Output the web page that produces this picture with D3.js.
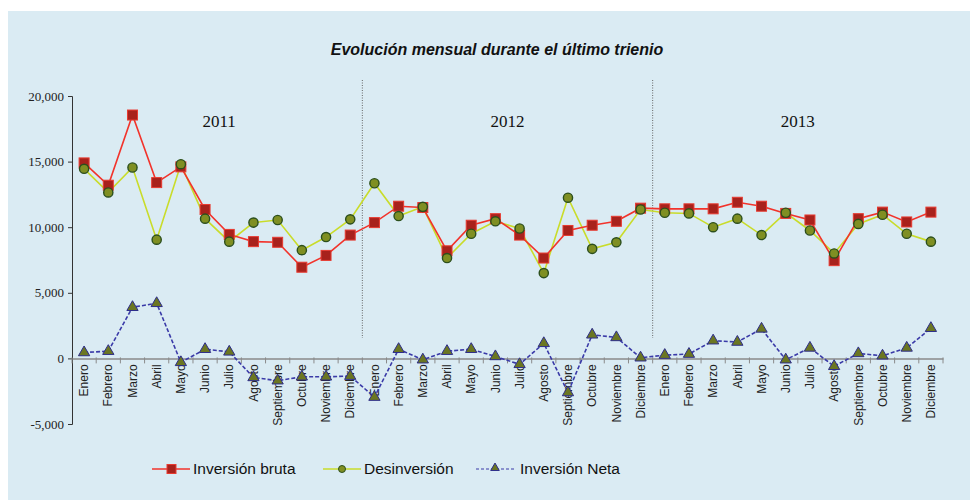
<!DOCTYPE html>
<html>
<head>
<meta charset="utf-8">
<script src="https://cdn.jsdelivr.net/npm/d3@7"></script>
<style>
  body { margin: 0; background: #ffffff; }
  svg { display: block; }
</style>
</head>
<body>
<div id="chart"></div>
<script>
const years = ['2011', '2012', '2013']
const months = ['Enero', 'Febrero', 'Marzo', 'Abril', 'Mayo', 'Junio', 'Julio', 'Agosto',
    'Septiembre', 'Octubre', 'Noviembre', 'Diciembre']

const inversionBruta = [
    14900, 13200, 18550, 13400, 14600, 11350, 9450, 8900, 8850, 6950, 7850, 9400,
    10350, 11600, 11500, 8200, 10150, 10650, 9400, 7650, 9750, 10150, 10450, 11450,
    11400, 11400, 11400, 11900, 11600, 11050, 10550, 7450, 10650, 11150, 10400, 11150
]
const desinversion = [
    14450, 12650, 14550, 9050, 14800, 10650, 8900, 10350, 10550, 8250, 9250, 10600,
    13350, 10850, 11550, 7650, 9500, 10450, 9900, 6500, 12250, 8350, 8850, 11350,
    11100, 11050, 10000, 10650, 9400, 11100, 9750, 8000, 10250, 10950, 9500, 8900
]
const inversionNeta = [
    450, 550, 3900, 4200, -300, 700, 500, -1450, -1700, -1400, -1400, -1350,
    -2950, 700, -100, 550, 700, 150, -450, 1150, -2600, 1800, 1600, 50,
    250, 330, 1350, 1250, 2250, -100, 800, -600, 380, 200, 800, 2300
]
const yTicks = [-5000, 0, 5000, 10000, 15000, 20000]

w = 970
h = 500

// one entry per month across the three years
const cats = []
years.forEach(y => months.forEach(m => cats.push(y + '-' + m)))

const svg = d3.select('#chart')
    .append('svg')
    .attr('width', w)
    .attr('height', h)

// background panel
svg.append('rect')
    .attr('x', 8).attr('y', 11)
    .attr('width', w - 8).attr('height', h - 11)
    .attr('fill', '#daebf3')

const xScale = d3.scaleBand()
    .domain(cats)
    .range([72, 943])

const yScale = d3.scaleLinear()
    .domain([-5000, 20000])
    .range([424, 96])

const cx = (d, i) => xScale(cats[i]) + xScale.bandwidth() / 2

// title
svg.append('text')
    .attr('x', 497).attr('y', 55)
    .attr('text-anchor', 'middle')
    .style('font-family', 'Liberation Sans, Arial, sans-serif')
    .style('font-size', '16px')
    .style('font-weight', 'bold')
    .style('font-style', 'italic')
    .attr('fill', '#111')
    .text('Evolución mensual durante el último trienio')

// y axis
const yAxis = d3.axisLeft(yScale)
    .tickValues(yTicks)
    .tickSize(4)
    .tickFormat(d => d3.format(',')(d).replace('\u2212', '-'))

const gy = svg.append('g')
    .attr('transform', 'translate(72,0)')
    .call(yAxis)
gy.select('.domain').attr('stroke', '#333')
gy.selectAll('.tick line').attr('stroke', '#333')
gy.selectAll('.tick text')
    .attr('x', -8)
    .style('font-family', 'Liberation Serif, Times New Roman, serif')
    .style('font-size', '13px')
    .attr('fill', '#222')

// x axis at zero
const xAxis = d3.axisBottom(xScale)
    .tickSize(0)
    .tickFormat((d, i) => d.split('-')[1])

const gx = svg.append('g')
    .attr('transform', 'translate(0,' + yScale(0) + ')')
    .call(xAxis)
gx.select('.domain').attr('stroke', '#8a8a8a').attr('stroke-width', 1.5)
gx.selectAll('.tick text')
    .attr('transform', 'rotate(-90)')
    .attr('x', -6)
    .attr('y', 0)
    .attr('dy', '0.35em')
    .attr('text-anchor', 'end')
    .style('font-family', 'Liberation Sans, Arial, sans-serif')
    .style('font-size', '12px')
    .attr('fill', '#222')

// tick marks between categories
svg.append('g').selectAll('line')
    .data(d3.range(cats.length + 1))
    .enter()
    .append('line')
    .attr('x1', i => xScale.range()[0] + i * xScale.step())
    .attr('x2', i => xScale.range()[0] + i * xScale.step())
    .attr('y1', yScale(0) - 1)
    .attr('y2', yScale(0) + 5)
    .attr('stroke', '#8a8a8a')

// year separators
svg.append('g').selectAll('line')
    .data([12, 24])
    .enter()
    .append('line')
    .attr('x1', i => xScale(cats[i]))
    .attr('x2', i => xScale(cats[i]))
    .attr('y1', 80)
    .attr('y2', 338)
    .attr('stroke', '#666')
    .attr('stroke-width', 1)
    .attr('stroke-dasharray', '1,1.5')

// year labels
svg.append('g').selectAll('text')
    .data(years)
    .enter()
    .append('text')
    .attr('x', (d, i) => {
        const a = xScale(cats[i * 12])
        const b = xScale(cats[i * 12 + 11]) + xScale.bandwidth()
        return (a + b) / 2 + (i == 0 ? 2 : 0)
    })
    .attr('y', 127)
    .attr('text-anchor', 'middle')
    .style('font-family', 'Liberation Serif, Times New Roman, serif')
    .style('font-size', '17px')
    .attr('fill', '#111')
    .text(d => d)

const line = d3.line()
    .x(cx)
    .y(d => yScale(d))

// Desinversión
svg.append('path')
    .datum(desinversion)
    .attr('d', line)
    .attr('fill', 'none')
    .attr('stroke', '#c9dc2a')
    .attr('stroke-width', 1.6)

// Inversión bruta
svg.append('path')
    .datum(inversionBruta)
    .attr('d', line)
    .attr('fill', 'none')
    .attr('stroke', '#f2332b')
    .attr('stroke-width', 1.6)

svg.append('g').selectAll('rect')
    .data(inversionBruta)
    .enter()
    .append('rect')
    .attr('x', (d, i) => cx(d, i) - 5)
    .attr('y', d => yScale(d) - 5)
    .attr('width', 10)
    .attr('height', 10)
    .attr('fill', '#a8221c')
    .attr('stroke', '#e83a30')
    .attr('stroke-width', 1)

svg.append('g').selectAll('circle')
    .data(desinversion)
    .enter()
    .append('circle')
    .attr('cx', cx)
    .attr('cy', d => yScale(d))
    .attr('r', 4.6)
    .attr('fill', '#7f8f22')
    .attr('stroke', '#2c4f1c')
    .attr('stroke-width', 1.4)

// Inversión Neta
svg.append('path')
    .datum(inversionNeta)
    .attr('d', line)
    .attr('fill', 'none')
    .attr('stroke', '#3a3aa8')
    .attr('stroke-width', 1.6)
    .attr('stroke-dasharray', '4,2')

const tri = d3.symbol().type(d3.symbolTriangle).size(55)
svg.append('g').selectAll('path')
    .data(inversionNeta)
    .enter()
    .append('path')
    .attr('d', tri)
    .attr('transform', (d, i) => 'translate(' + cx(d, i) + ',' + yScale(d) + ')')
    .attr('fill', '#6b7622')
    .attr('stroke', '#2d2d8a')
    .attr('stroke-width', 1)

// legend
const legend = [
    { name: 'Inversión bruta', x: 152 },
    { name: 'Desinversión', x: 323 },
    { name: 'Inversión Neta', x: 476 }
]
const ly = 469
const lg = svg.append('g')

lg.append('line').attr('x1', legend[0].x).attr('x2', legend[0].x + 38)
    .attr('y1', ly).attr('y2', ly).attr('stroke', '#f2332b').attr('stroke-width', 1.6)
lg.append('rect').attr('x', legend[0].x + 15).attr('y', ly - 4.5)
    .attr('width', 9).attr('height', 9).attr('fill', '#a8221c').attr('stroke', '#e83a30')

lg.append('line').attr('x1', legend[1].x).attr('x2', legend[1].x + 38)
    .attr('y1', ly).attr('y2', ly).attr('stroke', '#c9dc2a').attr('stroke-width', 1.3)
lg.append('circle').attr('cx', legend[1].x + 19).attr('cy', ly).attr('r', 3.5)
    .attr('fill', '#7f8f22').attr('stroke', '#2c4f1c')

lg.append('line').attr('x1', legend[2].x).attr('x2', legend[2].x + 40)
    .attr('y1', ly).attr('y2', ly).attr('stroke', '#3a3aa8').attr('stroke-width', 1.2)
    .attr('stroke-dasharray', '3,2')
lg.append('path').attr('d', d3.symbol().type(d3.symbolTriangle).size(32))
    .attr('transform', 'translate(' + (legend[2].x + 19) + ',' + (ly - 1) + ')')
    .attr('fill', '#6b7622').attr('stroke', '#2d2d8a')

lg.selectAll('text')
    .data(legend)
    .enter()
    .append('text')
    .attr('x', d => d.x + (d.name == 'Inversión Neta' ? 44 : 41))
    .attr('y', ly + 5)
    .style('font-family', 'Liberation Sans, Arial, sans-serif')
    .style('font-size', '15.5px')
    .attr('fill', '#111')
    .text(d => d.name)
</script>
</body>
</html>
